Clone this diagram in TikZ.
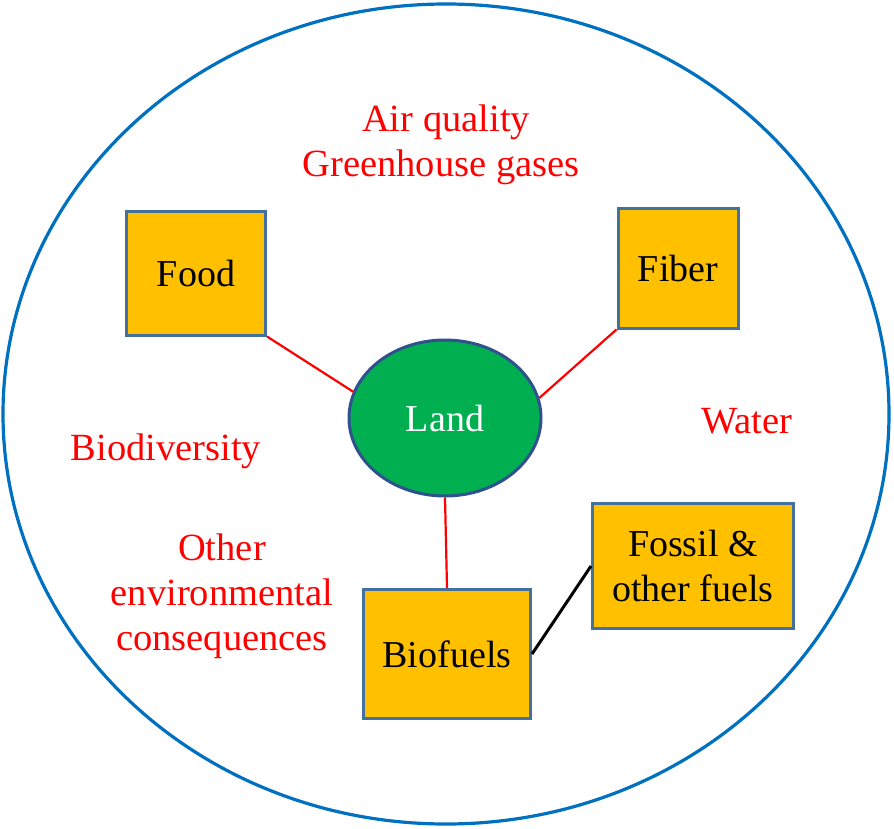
\documentclass[tikz,border=0pt]{standalone}
\usepackage{fontspec}
\setmainfont{Liberation Serif}
\usetikzlibrary{shapes.geometric}

\definecolor{boxorange}{HTML}{FFC000}
\definecolor{boxedge}{HTML}{41719C}
\definecolor{landgreen}{HTML}{00B050}
\definecolor{landedge}{HTML}{2F528F}
\definecolor{ringblue}{HTML}{0070C0}

\begin{document}
\begin{tikzpicture}[x=1pt, y=-1pt,
  every node/.style={font=\fontsize{38}{45}\selectfont, align=center},
  box/.style={rectangle, draw=boxedge, line width=3pt, fill=boxorange, inner sep=0pt},
  land/.style={ellipse, draw=landedge, line width=3pt, fill=landgreen, text=white, inner sep=0pt, minimum width=192pt, minimum height=156pt},
  effect/.style={text=red, font=\fontsize{38.5}{45}\selectfont},
  redlink/.style={draw=red, line width=2.2pt},
  blacklink/.style={draw=black, line width=3pt}]
			\useasboundingbox (0,0) rectangle (894,828);
			\draw[ringblue, line width=3.2pt] (446,414) ellipse [x radius=443, y radius=410];
			
			\node[land] (land) at (445,418){Land};
			\node[box, minimum width=139pt, minimum height=124pt] (food) at (196,273){Food};
			\node[box, minimum width=120pt, minimum height=120pt] (fiber) at (678,268){Fiber};
			\node[box, minimum width=167pt, minimum height=129pt] (biofuels) at (447,654){Biofuels};
			\node[box, minimum width=201pt, minimum height=125pt] (fossil) at (693,566){Fossil \&\\other fuels};
			
			\node[effect] (air) at (446,122){Air quality};
			\node[effect] (ghg) at (441,167){Greenhouse gases};
			\node[effect] (biodiv) at (166,451){Biodiversity};
			\node[effect] (water) at (747,421){Water};
			\node[effect] (other) at (222,596){Other\\environmental\\consequences};
			
			\path[redlink] (food.south east) edge (land.164);
			\path[redlink] (fiber.south west) edge (land.12);
			\path[redlink] (land.south) edge (biofuels.north);
			\path[blacklink] (biofuels.east) edge (fossil.west);
\end{tikzpicture}
\end{document}
